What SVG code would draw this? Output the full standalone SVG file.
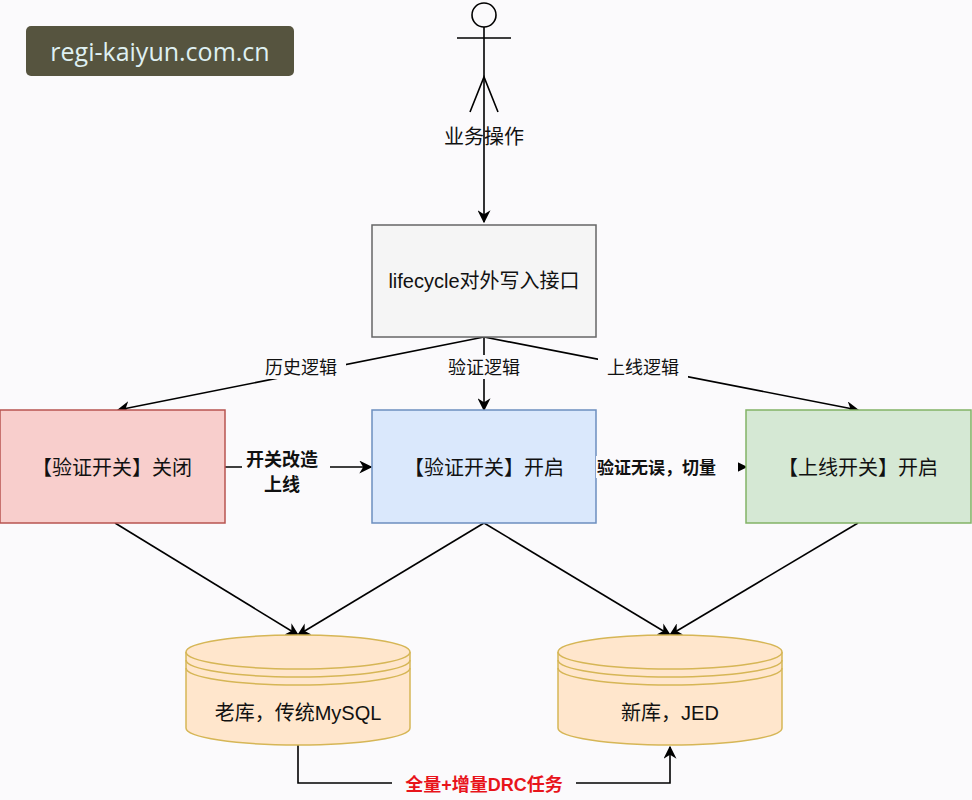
<svg xmlns="http://www.w3.org/2000/svg" width="972" height="800" viewBox="0 0 972 800">
<style>
text{font-family:"Liberation Sans","Noto Sans CJK SC",sans-serif;fill:#111;}
.l{stroke:#000;stroke-width:1.6;fill:none}
.c{font-size:20px;text-anchor:middle}
.b{font-size:18px;font-weight:bold}
</style>
<defs>
<marker id="a" viewBox="0 0 10 10" refX="9" refY="5" markerWidth="13" markerHeight="13" markerUnits="userSpaceOnUse" orient="auto"><path d="M0,0 L10,5 L0,10 L3,5 z" fill="#000"/></marker>
</defs>
<rect width="972" height="800" fill="#fbfafc"/>
<g id="watermark"><rect x="26" y="26" width="268" height="50" rx="5" fill="#56543f"/><text x="160" y="61" font-size="25" text-anchor="middle" style="fill:#dff0f2;font-family:'Open Sans',sans-serif">regi-kaiyun.com.cn</text></g>
<g id="actor" class="l"><circle cx="484" cy="15" r="12"/><path d="M457,38H511M470,112L484,77L498,112"/></g>
<g id="connectors" class="l">
<path d="M484,27V222" marker-end="url(#a)"/>
<path d="M484,337L118,410" marker-end="url(#a)"/>
<path d="M484,337V410" marker-end="url(#a)"/>
<path d="M484,337L858,410" marker-end="url(#a)"/>
<path d="M225,467H371" marker-end="url(#a)"/>
<path d="M596,467H746" marker-end="url(#a)"/>
<path d="M115,523L298,635" marker-end="url(#a)"/>
<path d="M484,523L298,635" marker-end="url(#a)"/>
<path d="M484,523L670,635" marker-end="url(#a)"/>
<path d="M858,523L670,635" marker-end="url(#a)"/>
<path d="M298,745V783H670V747" marker-end="url(#a)"/>
</g>
<text x="484" y="144" class="c" font-size="19" style="paint-order:stroke;stroke:#fbfafc;stroke-width:0">业务操作</text>
<rect x="256" y="355" width="90" height="24" fill="#fbfafc"/><text x="301" y="374" font-size="18" text-anchor="middle">历史逻辑</text>
<rect x="440" y="355" width="88" height="24" fill="#fbfafc"/><text x="484" y="374" font-size="18" text-anchor="middle">验证逻辑</text>
<rect x="598" y="355" width="90" height="24" fill="#fbfafc"/><text x="643" y="374" font-size="18" text-anchor="middle">上线逻辑</text>
<g id="n-api"><rect x="372" y="225" width="224" height="112" fill="#f5f5f5" stroke="#666" stroke-width="1.5"/><text x="484" y="288" class="c">lifecycle对外写入接口</text></g>
<g id="n-off"><rect x="0" y="410" width="225" height="113" fill="#f8cecc" stroke="#b85450" stroke-width="1.5"/><text x="112" y="475" class="c">【验证开关】关闭</text></g>
<g id="n-on"><rect x="372" y="410" width="224" height="113" fill="#dae8fc" stroke="#6c8ebf" stroke-width="1.5"/><text x="484" y="475" class="c">【验证开关】开启</text></g>
<g id="n-live"><rect x="746" y="410" width="225" height="113" fill="#d5e8d4" stroke="#82b366" stroke-width="1.5"/><text x="858" y="475" class="c">【上线开关】开启</text></g>
<rect x="242" y="446" width="88" height="48" fill="#fbfafc"/>
<text x="246" y="466" class="b">开关改造</text><text x="264" y="491" class="b">上线</text>
<rect x="596" y="456" width="142" height="22" fill="#fbfafc"/>
<text x="597" y="474" class="b" style="font-size:17px">验证无误，切量</text>
<g id="db-old" fill="#ffe6cc" stroke="#d6b656" stroke-width="1.5">
<path d="M186,652V728A112,17 0 0 0 410,728V652"/><ellipse cx="298" cy="652" rx="112" ry="17"/>
<path d="M186,660A112,17 0 0 0 410,660M186,668A112,17 0 0 0 410,668" fill="none"/>
<text x="298" y="720" class="c" stroke="none">老库，传统MySQL</text></g>
<g id="db-new" fill="#ffe6cc" stroke="#d6b656" stroke-width="1.5">
<path d="M558,652V728A112,17 0 0 0 782,728V652"/><ellipse cx="670" cy="652" rx="112" ry="17"/>
<path d="M558,660A112,17 0 0 0 782,660M558,668A112,17 0 0 0 782,668" fill="none"/>
<text x="670" y="720" class="c" stroke="none">新库，JED</text></g>
<rect x="392" y="771" width="184" height="24" fill="#fbfafc"/>
<text x="484" y="791" font-size="18" font-weight="bold" text-anchor="middle" style="fill:#e8141b">全量+增量DRC任务</text>
</svg>
